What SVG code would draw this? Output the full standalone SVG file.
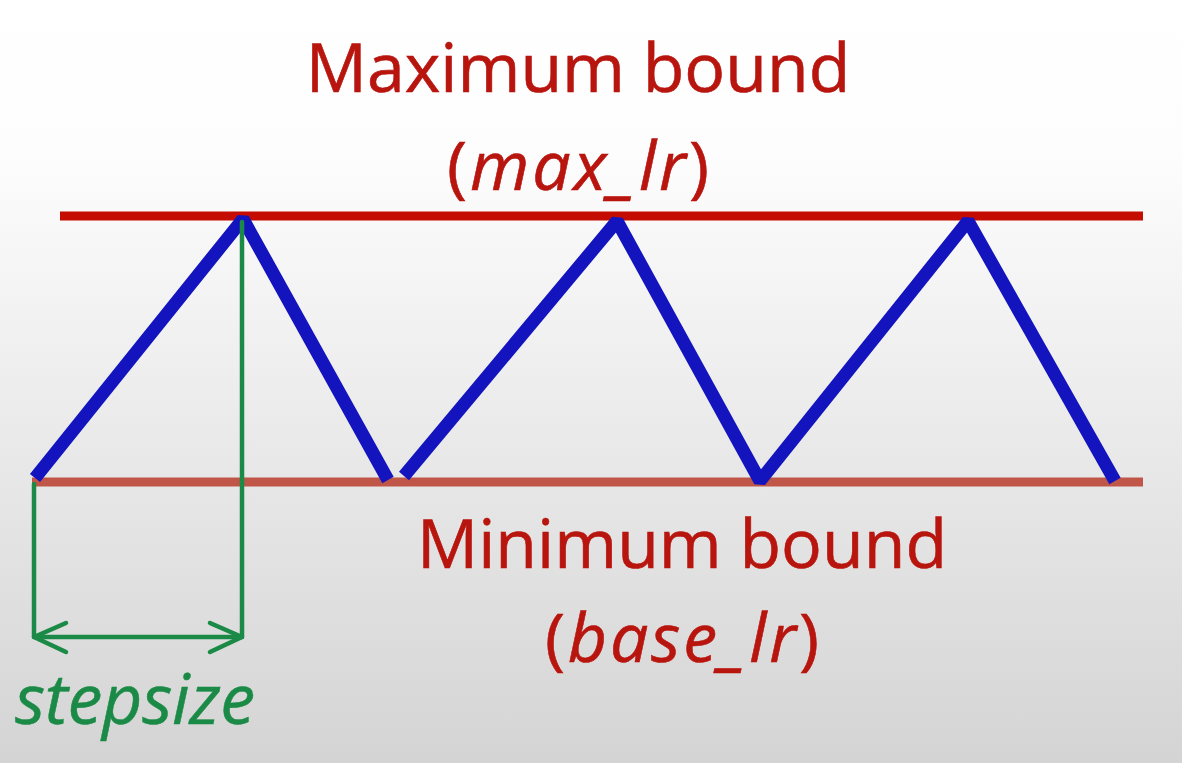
<svg xmlns="http://www.w3.org/2000/svg" width="1182" height="763" viewBox="0 0 1182 763">
<defs>
<linearGradient id="bg" x1="0" y1="0" x2="0" y2="1">
<stop offset="0" stop-color="#ffffff"/>
<stop offset="0.2" stop-color="#fdfdfd"/>
<stop offset="0.55" stop-color="#ebebeb"/>
<stop offset="1" stop-color="#d4d4d4"/>
</linearGradient>
</defs>
<style>
.lbl{font-family:"Open Sans","Liberation Sans",sans-serif;font-size:68px;fill:#b8150f;text-anchor:middle;stroke:#b8150f;stroke-width:0.6}
.it{font-style:italic}
.bound{fill:none;stroke-width:9}
.wave{fill:none;stroke:#1414bf;stroke-width:13;stroke-linejoin:bevel}
.grn{fill:none;stroke:#1b8a47;stroke-width:4.5;stroke-linecap:round;stroke-linejoin:round}
</style>
<rect width="1182" height="763" fill="url(#bg)"/>
<g id="bounds">
<line class="bound" x1="60" y1="216" x2="1143" y2="216" stroke="#c40d00"/>
<line class="bound" x1="32" y1="482" x2="1143" y2="482" stroke="#bf5648"/>
</g>
<g id="wave">
<path class="wave" d="M35,478 L243,219 L388,480 M404,476 L617,221 L760,481 L968,221 L1115,481"/>
</g>
<g id="connectors">
<path class="grn" d="M34,484 L34,637 M242,222 L242,637 M34,637 L242,637"/>
<path class="grn" d="M66,623 L34,637 L66,652 M210,623 L242,637 L210,652"/>
</g>
<g id="max-label">
<text class="lbl" x="578" y="92">Maximum bound</text>
<text class="lbl" x="578" y="190" textLength="262">(<tspan class="it">max_lr</tspan>)</text>
</g>
<g id="min-label">
<text class="lbl" x="682" y="568">Minimum bound</text>
<text class="lbl" x="682" y="662" textLength="274">(<tspan class="it">base_lr</tspan>)</text>
</g>
<g id="step-label">
<text x="15" y="724" font-family="Open Sans, Liberation Sans, sans-serif" font-size="70" font-style="italic" fill="#1b8a47" stroke="#1b8a47" stroke-width="0.5" textLength="240">stepsize</text>
</g>
</svg>
